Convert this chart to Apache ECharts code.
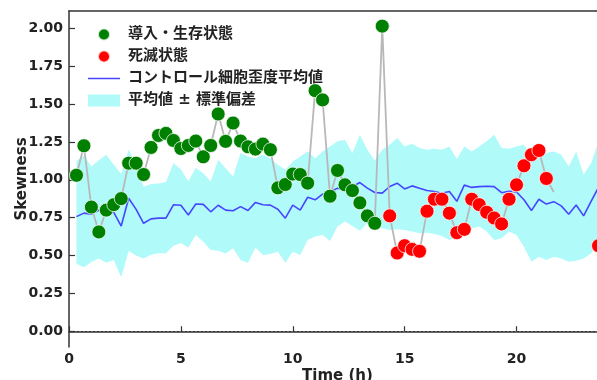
<!DOCTYPE html>
<html>
<head>
<meta charset="utf-8">
<script src="https://cdn.jsdelivr.net/npm/echarts@6/dist/echarts.min.js"></script>
<style>
  html, body { margin: 0; padding: 0; background: #fff; }
  #chart { width: 597px; height: 380px; }
</style>
</head>
<body>
<div id="chart"></div>
<script>
// one sample every 20 min, first one at 20 min
var stepH = 1 / 3;

var controlMean = [
  0.757, 0.78, 0.773, 0.80, 0.79, 0.785, 0.695, 0.878, 0.805, 0.713,
  0.742, 0.747, 0.747, 0.835, 0.832, 0.768, 0.84, 0.838, 0.789, 0.832,
  0.80, 0.796, 0.823, 0.797, 0.851, 0.835, 0.833, 0.806, 0.747, 0.833,
  0.80, 0.885, 0.868, 0.905, 0.92, 0.945, 0.935, 0.955, 0.982, 0.945,
  0.916, 0.912, 0.956, 0.978, 0.94, 0.96, 0.945, 0.93, 0.923, 0.912,
  0.923, 0.858, 0.965, 0.95, 0.955, 0.958, 0.955, 0.915, 0.925, 0.92,
  0.868, 0.797, 0.872, 0.84, 0.856, 0.828, 0.773, 0.834, 0.762, 0.858,
  0.95
];
var bandUpper = [
  1.125, 1.16, 1.088, 1.13, 1.166, 1.10, 1.04, 1.199, 1.105, 0.955,
  0.972, 0.975, 0.985, 1.11, 1.07, 0.99, 1.08, 1.044, 0.989, 1.132,
  1.077, 1.022, 1.177, 1.154, 1.143, 1.166, 1.143, 1.099, 1.066, 1.12,
  1.154, 1.187, 1.143, 1.187, 1.22, 1.254, 1.265, 1.177, 1.298, 1.199,
  1.128, 1.199, 1.232, 1.276, 1.22, 1.238, 1.21, 1.199, 1.205, 1.199,
  1.22, 1.137, 1.22, 1.187, 1.22, 1.254, 1.298, 1.21, 1.205, 1.22,
  1.232, 1.166, 1.159, 1.177, 1.187, 1.166, 1.088, 1.187, 1.033, 1.11,
  1.254
];
var bandLower = [
  0.446, 0.422, 0.457, 0.481, 0.452, 0.47, 0.356, 0.53, 0.50, 0.48,
  0.506, 0.515, 0.515, 0.564, 0.583, 0.553, 0.635, 0.591, 0.536, 0.532,
  0.514, 0.548, 0.47, 0.452, 0.553, 0.503, 0.51, 0.525, 0.452, 0.525,
  0.503, 0.603, 0.625, 0.636, 0.596, 0.691, 0.724, 0.695, 0.664, 0.713,
  0.691, 0.68, 0.669, 0.673, 0.669, 0.658, 0.647, 0.651, 0.642, 0.629,
  0.603, 0.62, 0.647, 0.68, 0.691, 0.658, 0.603, 0.614, 0.658, 0.636,
  0.558, 0.459, 0.492, 0.47, 0.492, 0.481, 0.459, 0.466, 0.481, 0.514,
  0.58
];
var sampleSkew = [
  1.03, 1.225, 0.82, 0.656, 0.80, 0.836, 0.876, 1.11, 1.11, 1.035,
  1.214, 1.293, 1.307, 1.26, 1.207, 1.227, 1.256, 1.152, 1.227, 1.435,
  1.254, 1.375, 1.256, 1.218, 1.203, 1.236, 1.199, 0.947, 0.969, 1.038,
  1.035, 0.978, 1.589, 1.528, 0.892, 1.062, 0.967, 0.929, 0.848, 0.762,
  0.713, 2.015, 0.762, 0.517, 0.565, 0.541, 0.528, 0.793, 0.872, 0.872,
  0.78, 0.651, 0.673, 0.872, 0.836, 0.786, 0.748, 0.709, 0.872, 0.967,
  1.093, 1.166, 1.194, 1.009, 0.92, null, null, null, null, null,
  0.565
];
// L = 導入・生存, D = 死滅, - = no marker
var sampleState = 'LLLLLLLLLLLLLLLLLLLLLLLLLLLLLLLLLLLLLLLLLL' +
                  'DDDDDDDDDDDDDDDDDDDDDD' + '------' + 'D';

var xTicks = [0, 5, 10, 15, 20];
var yTicks = [0, 0.25, 0.5, 0.75, 1.0, 1.25, 1.5, 1.75, 2.0];

var names = ['導入・生存状態', '死滅状態', 'コントロール細胞歪度平均値', '平均値 ± 標準偏差'];

var font = "'DejaVu Sans', 'Noto Sans CJK JP', sans-serif";
var ink = '#222';
var axisColor = '#333';
var cyan = '#b0fafa';
var blue = '#4646ff';
// plain line icon for the legend (two invisible specks keep the 32x12 box)
var lineIcon = 'path://M0,0L0.01,0L0,0.01Z M32,12L31.99,12L32,11.99Z M0,5.2H32V6.8H0Z';

var times = controlMean.map(function(_, i) { return (i + 1) * stepH; });
function pairs(arr) { return arr.map(function(v, i) { return [times[i], v]; }); }

var liveData = [], deadData = [];
sampleSkew.forEach(function(v, i) {
  if (v == null) return;
  if (sampleState[i] === 'L') liveData.push([times[i], v]);
  if (sampleState[i] === 'D') deadData.push([times[i], v]);
});
var bandData = times.map(function(t, i) { return [t, bandLower[i], bandUpper[i]]; });

// whole band as one polygon: upper edge left->right, lower edge back
function renderBand(params, api) {
  if (params.dataIndex !== 0) return null;
  var pts = [];
  for (var i = 0; i < bandData.length; i++) pts.push(api.coord([bandData[i][0], bandData[i][2]]));
  for (var j = bandData.length - 1; j >= 0; j--) pts.push(api.coord([bandData[j][0], bandData[j][1]]));
  return {
    type: 'polygon',
    shape: { points: pts },
    style: { fill: cyan, stroke: null },
    silent: true
  };
}

var chart = echarts.init(document.getElementById('chart'));
chart.setOption({
  animation: false,
  textStyle: { fontFamily: font },
  grid: { left: 69, top: 11, right: -9, bottom: 33, outerBoundsMode: 'none', containLabel: false },
  legend: {
    orient: 'vertical',
    left: 83,
    top: 22,
    itemWidth: 32,
    itemHeight: 12,
    itemGap: 7,
    data: [
      { name: names[0], icon: 'circle' },
      { name: names[1], icon: 'circle' },
      { name: names[2], icon: lineIcon, itemStyle: { color: blue } },
      { name: names[3], icon: 'rect', itemStyle: { color: cyan } }
    ],
    textStyle: { color: ink, fontSize: 15, fontWeight: 'bold', fontFamily: font, padding: [0, 0, 0, 3] }
  },
  xAxis: [{
    type: 'value',
    min: 0,
    max: 24,
    name: 'Time (h)',
    nameLocation: 'middle',
    nameGap: 22,
    nameMoveOverlap: false,
    nameTextStyle: { color: ink, fontSize: 15, fontWeight: 'bold', fontFamily: font },
    axisLine: { lineStyle: { color: axisColor, width: 1.5 } },
    axisTick: { inside: true, length: 5, customValues: xTicks, lineStyle: { color: axisColor, width: 1.2 } },
    axisLabel: { customValues: xTicks, color: ink, fontSize: 14, fontWeight: 'bold', margin: 5 },
    splitLine: { show: false }
  }, {
    type: 'value',
    position: 'top',
    min: 0,
    max: 24,
    axisLine: { show: true, lineStyle: { color: axisColor, width: 1.5 } },
    axisTick: { show: false },
    axisLabel: { show: false },
    splitLine: { show: false }
  }],
  yAxis: {
    type: 'value',
    min: -0.104,
    max: 2.115,
    name: 'Skewness',
    nameLocation: 'middle',
    nameGap: 39,
    nameMoveOverlap: false,
    nameTextStyle: { color: ink, fontSize: 15, fontWeight: 'bold', fontFamily: font },
    axisLine: { show: true, lineStyle: { color: axisColor, width: 1.5 } },
    axisTick: { inside: true, length: 6, customValues: yTicks, lineStyle: { color: axisColor, width: 1.2 } },
    axisLabel: {
      customValues: yTicks,
      color: ink,
      fontSize: 14,
      fontWeight: 'bold',
      margin: 6,
      formatter: function(v) { return v.toFixed(2); }
    },
    splitLine: { show: false }
  },
  series: [
    {
      name: names[3],
      type: 'custom',
      renderItem: renderBand,
      data: bandData,
      encode: { x: 0, y: [1, 2] },
      itemStyle: { color: cyan },
      silent: true,
      z: 1
    },
    {
      name: names[2],
      type: 'line',
      data: pairs(controlMean),
      symbol: 'none',
      itemStyle: { color: blue },
      lineStyle: { color: blue, width: 1.6 },
      markLine: {
        silent: true,
        symbol: 'none',
        label: { show: false },
        lineStyle: { color: '#333', type: [2, 2], width: 1 },
        emphasis: { disabled: true },
        data: [{ yAxis: 0 }]
      },
      z: 2
    },
    {
      name: 'trace',
      type: 'line',
      data: pairs(sampleSkew),
      symbol: 'none',
      connectNulls: false,
      lineStyle: { color: '#b8b8b8', width: 1.8 },
      z: 3
    },
    {
      name: names[0],
      type: 'scatter',
      data: liveData,
      symbol: 'circle',
      symbolSize: 14,
      itemStyle: { color: '#008000', borderColor: 'rgba(255,255,255,0.75)', borderWidth: 1, opacity: 1 },
      z: 4
    },
    {
      name: names[1],
      type: 'scatter',
      data: deadData,
      symbol: 'circle',
      symbolSize: 14,
      itemStyle: { color: '#ff0000', borderColor: 'rgba(255,255,255,0.75)', borderWidth: 1, opacity: 1 },
      z: 4
    }
  ]
});
</script>
</body>
</html>
